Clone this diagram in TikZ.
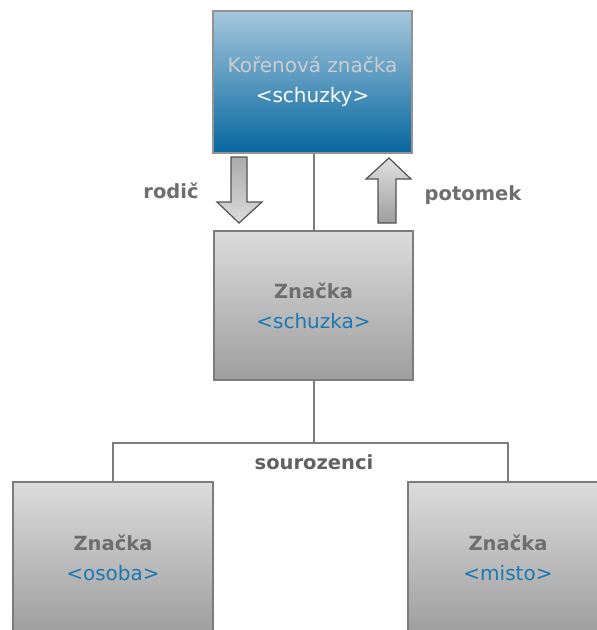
\documentclass[tikz,border=0pt]{standalone}
\usepackage{fontspec}
\setmainfont{DejaVu Sans}
\definecolor{bluetop}{HTML}{A6C7DD}
\definecolor{bluebot}{HTML}{06679F}
\definecolor{graytop}{HTML}{DCDCDC}
\definecolor{graybot}{HTML}{9E9E9E}
\definecolor{edgegray}{HTML}{7C7C7C}
\definecolor{labelgray}{HTML}{6E6E6E}
\definecolor{tagblue}{HTML}{1C78B2}
\definecolor{rootgray}{HTML}{C9CDD0}
\begin{document}
\begin{tikzpicture}[x=1pt,y=-1pt,
  box/.style={draw=edgegray,line width=1.6pt,minimum width=199pt,minimum height=149pt,
    inner sep=0pt,align=center,font=\fontsize{20}{30}\selectfont},
  rootbox/.style={box,top color=bluetop,bottom color=bluebot,draw=gray!85,minimum height=142pt},
  graybox/.style={box,top color=graytop,bottom color=graybot},
  lbl/.style={font=\fontsize{19.5}{24}\selectfont\bfseries,text=labelgray,inner sep=0pt},
  conn/.style={draw=edgegray,line width=1.8pt},
  bigarrow/.style={draw=black!68,line width=1.2pt,line join=miter}
]
\useasboundingbox (0,0) rectangle (597,630);
\clip (0,0) rectangle (597,630);

\node[rootbox] (root) at (312.5,82) {{\color{rootgray}Kořenová značka}\\{\color{white}<schuzky>}};
\node[graybox] (mid) at (313.5,305.5) {{\color{labelgray}\fontsize{19.5}{30}\selectfont\bfseries Značka}\\{\color{tagblue}<schuzka>}};
\node[graybox,minimum width=200pt,minimum height=152pt] (left) at (113,558) {{\color{labelgray}\fontsize{19.5}{30}\selectfont\bfseries Značka}\\{\color{tagblue}<osoba>}};
\node[graybox,minimum width=200pt,minimum height=152pt] (right) at (508,558) {{\color{labelgray}\fontsize{19.5}{30}\selectfont\bfseries Značka}\\{\color{tagblue}<misto>}};

\coordinate (bus) at (314,443);
\draw[conn] (mid.north -| bus) -- (root.south -| bus);
\draw[conn] (mid.south -| bus) -- (bus);
\draw[conn] (left.north) |- (bus) -| (right.north);

% down arrow (rodic)
\draw[bigarrow,top color=black!33,bottom color=black!14]
  (231,157) -- (247,157) -- (247,202) -- (262,202) -- (239,223) -- (217,202) -- (231,202) -- cycle;
% up arrow (potomek)
\draw[bigarrow,top color=black!12,bottom color=black!38]
  (389,158) -- (411,179) -- (396,179) -- (396,223) -- (378,223) -- (378,179) -- (366,179) -- cycle;

\node[lbl] (rodic) at (171,191) {rodič};
\node[lbl] (potomek) at (473,195) {potomek};
\node[lbl,text=black!62] (souro) at (314,462) {sourozenci};
\end{tikzpicture}
\end{document}
